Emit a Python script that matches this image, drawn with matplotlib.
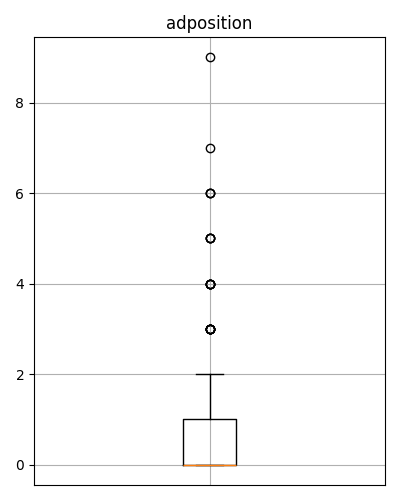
import matplotlib
matplotlib.use("Agg")
import matplotlib.pyplot as plt
import numpy as np

column = "adposition"
values = [0, 1, 2, 3, 4, 5, 6, 7, 9]
counts = [70, 30, 8, 8, 6, 4, 3, 1, 1]
data = np.repeat(values, counts)

fig, ax = plt.subplots(figsize=(4, 5), dpi=100)
ax.boxplot(data)
ax.set_title(column)
ax.grid(True)
ax.set_xticks([1])
ax.set_xticklabels([""])
ax.tick_params(axis="x", length=0)
fig.subplots_adjust(left=0.085, right=0.9625, top=0.926, bottom=0.03)
fig.savefig("out.png")
